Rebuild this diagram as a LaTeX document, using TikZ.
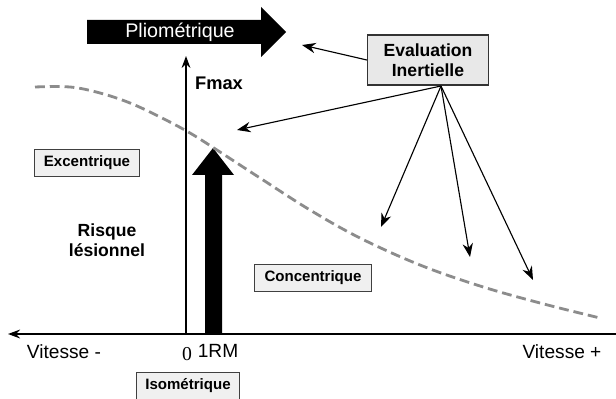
\documentclass[tikz,border=0pt]{standalone}
\usepackage{fontspec}
\setmainfont{Liberation Sans}
\newfontfamily\serifdigit{Liberation Serif}
\usetikzlibrary{arrows.meta}

\begin{document}
\begin{tikzpicture}[x=0.025cm, y=-0.025cm,
  zonebox/.style={rectangle, draw=black!75, line width=0.7pt, fill=black!6, inner sep=0pt, minimum width=2.6cm, minimum height=0.66cm, font=\fontsize{10.7}{12}\selectfont\bfseries},
  evalbox/.style={rectangle, draw=black!80, line width=1pt, fill=black!9, minimum width=3.02cm, minimum height=1.25cm, align=center, font=\fontsize{12.5}{14}\selectfont\bfseries},
  boldlabel/.style={align=center, font=\fontsize{12.5}{14.5}\selectfont\bfseries},
  axislabel/.style={font=\fontsize{13.6}{15}\selectfont},
  axis/.style={-{Stealth[length=3mm, width=2.2mm]}},
  pointer/.style={-{Stealth[length=3.4mm, width=2.6mm]}, line width=0.8pt}
]
\useasboundingbox (0,0) rectangle (616,399);

% axes
\coordinate (xleft) at (8,334);
\coordinate (xright) at (616,334);
\coordinate (origin) at (186,334);
\coordinate (ytop) at (186,56);
\draw[axis, line width=1.5pt] (xright) -- (xleft);
\draw[axis, line width=1.1pt] (origin) -- (ytop);

\node[axislabel] (vmoins) at (64,352) {Vitesse -};
\node[axislabel] (vplus) at (562,352) {Vitesse +};
\node[font=\fontsize{14}{15}\selectfont\serifdigit] (zero) at (187,354) {0};
\node[axislabel] (rm) at (218,351) {1RM};
\node[font=\fontsize{13}{15}\selectfont\bfseries] (fmax) at (219,83) {Fmax};

% block arrows
\fill (87,20) -- (261,20) -- (261,7) -- (286,32) -- (261,57) -- (261,44) -- (87,44) -- cycle;
\node[text=white, font=\fontsize{14}{16}\selectfont] (plio) at (180,32) {Pliométrique};
\fill (205,334) -- (205,175) -- (192,175) -- (213,148) -- (234,175) -- (222,175) -- (222,334) -- cycle;

% force-velocity curve
\draw[black!45, line width=2pt, dash pattern=on 7pt off 3.5pt]
  plot[smooth, tension=0.6] coordinates {(35,87) (70,87) (100,93) (130,103) (160,117) (190,133) (220,152) (260,178) (310,210) (360,238) (420,265) (480,286) (540,303) (600,318)};

% zones
\node[zonebox, minimum width=2.6cm] (exc) at (87,163) {Excentrique};
\node[zonebox, minimum width=2.9cm] (conc) at (313,278) {Concentrique};
\node[zonebox, minimum width=2.55cm] (iso) at (188,386) {Isométrique};
\node[boldlabel] (risque) at (107,240) {Risque\\lésionnel};

% inertial evaluation
\node[evalbox] (eval) at (428,60) {Evaluation\\Inertielle};
\coordinate (src) at (441,86);
\coordinate (t1) at (302,45);
\coordinate (t2) at (237,130);
\coordinate (t3) at (381,227);
\coordinate (t4) at (470,257);
\coordinate (t5) at (533,280);
\draw[pointer] (eval.west |- 368,60) -- (t1);
\foreach \t in {t2,t3,t4,t5}
  \draw[pointer] (src) -- (\t);

\end{tikzpicture}
\end{document}
